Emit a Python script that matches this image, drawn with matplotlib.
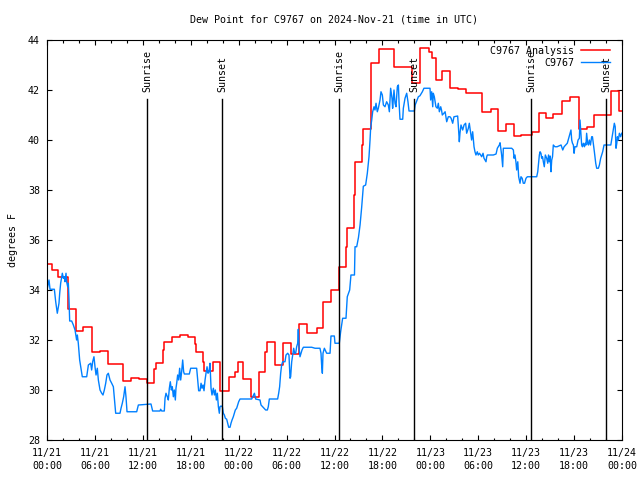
import matplotlib
matplotlib.use("Agg")
import matplotlib.pyplot as plt

# hourly analysis (value holds until next change time), hours since 11/21 00:00 UTC
analysis_hours = [0, 0.6, 1.4, 2.6, 3.6, 4.5, 5.6, 6.6, 7.6, 9.5,
                  10.5, 11.5, 12.5, 13.4, 13.7, 14.5, 14.6, 15.6, 16.6, 17.7,
                  18.5, 18.66, 19.58, 19.7, 20.75, 21.7, 22.75, 23.5, 23.9, 24.5,
                  25.55, 26.55, 27.3, 27.5, 28.55, 29.6, 30.6, 31.55, 32.6, 33.8,
                  34.6, 35.56, 36.6, 37.5, 37.6, 38.5, 38.6, 39.5, 39.6, 40.6,
                  41.6, 43.5, 45.7, 46.7, 47.8, 48.2, 48.7, 49.5, 50.5, 51.5,
                  52.5, 54.5, 55.6, 56.5, 57.5, 58.5, 59.4, 60.7, 61.6, 62.5,
                  63.4, 64.45, 65.45, 66.6, 67.6, 68.5, 70.6, 71.6, 72]
analysis_dewpoint = [35.03, 34.8, 34.5, 33.22, 32.36, 32.5, 31.52, 31.56, 31.04, 30.35,
                     30.47, 30.44, 30.28, 30.84, 31.08, 31.6, 31.9, 32.1, 32.2, 32.1,
                     31.83, 31.5, 31.13, 30.76, 31.1, 29.96, 30.5, 30.73, 31.13, 30.44,
                     29.73, 30.71, 31.5, 31.93, 31.0, 31.87, 31.44, 32.63, 32.3, 32.47,
                     33.5, 34.0, 34.93, 35.73, 36.47, 37.8, 39.13, 39.8, 40.43, 43.07,
                     43.63, 42.93, 42.3, 43.67, 43.5, 43.27, 42.4, 42.76, 42.07, 42.05,
                     41.87, 41.13, 41.24, 40.37, 40.64, 40.17, 40.2, 40.33, 41.07, 40.87,
                     41.04, 41.57, 41.73, 40.43, 40.5, 41.0, 41.96, 41.17, 41.17]

# station observations
obs_hours = [0.0, 0.25, 0.38, 0.92, 1.09, 1.29, 1.5, 1.59, 1.71, 1.92,
             2.05, 2.17, 2.25, 2.38, 2.46, 2.59, 2.67, 2.75, 2.84, 3.09,
             3.3, 3.51, 3.71, 3.8, 3.92, 4.09, 4.22, 4.42, 4.97, 5.18,
             5.47, 5.59, 5.72, 5.88, 6.01, 6.14, 6.3, 6.43, 6.64, 6.85,
             7.01, 7.18, 7.35, 7.51, 7.68, 7.89, 8.1, 8.31, 8.43, 8.6,
             9.14, 9.27, 9.43, 9.6, 9.77, 9.89, 10.02, 11.23, 11.44, 13.02,
             13.23, 14.15, 14.23, 14.36, 14.69, 14.78, 14.9, 15.07, 15.19, 15.32,
             15.44, 15.57, 15.69, 15.82, 15.94, 16.07, 16.15, 16.24, 16.36, 16.49,
             16.61, 16.74, 16.86, 16.99, 17.11, 17.2, 17.82, 17.99, 18.74, 18.87,
             18.99, 19.16, 19.29, 19.41, 19.54, 19.66, 19.79, 19.91, 20.04, 20.16,
             20.29, 20.41, 20.54, 20.66, 20.83, 20.96, 21.08, 21.21, 21.33, 21.46,
             21.58, 21.66, 21.79, 21.96, 22.08, 22.21, 22.33, 22.5, 22.62, 22.75,
             22.92, 23.04, 23.17, 23.33, 23.46, 23.58, 23.75, 23.88, 24.0, 24.17,
             25.63, 25.97, 26.13, 26.67, 26.8, 27.0, 27.38, 27.59, 27.71, 27.84,
             28.88, 29.01, 29.13, 29.26, 29.38, 29.51, 29.8, 29.93, 30.14, 30.3,
             30.43, 30.51, 30.64, 30.76, 30.89, 31.01, 31.14, 31.26, 31.39, 31.47,
             31.55, 31.68, 31.81, 31.93, 32.1, 33.14, 33.56, 34.18, 34.31, 34.39,
             34.48, 34.56, 34.73, 35.02, 35.44, 35.56, 35.98, 36.06, 36.6, 36.77,
             37.02, 37.44, 37.6, 37.9, 38.06, 38.5, 38.57, 38.78, 39.0, 39.2,
             39.4, 39.61, 39.9, 40.11, 40.32, 40.45, 40.53, 40.66, 40.78, 40.95,
             41.07, 41.2, 41.36, 41.49, 41.7, 41.82, 41.99, 42.12, 42.32, 42.53,
             42.74, 42.87, 43.03, 43.2, 43.28, 43.45, 43.58, 43.7, 43.87, 44.0,
             44.08, 44.2, 44.54, 44.62, 44.83, 45.04, 45.2, 45.33, 46.0, 46.1,
             46.5, 46.7, 47.0, 47.2, 47.96, 48.04, 48.17, 48.3, 48.37, 48.5,
             48.7, 48.88, 49.0, 49.13, 49.3, 49.4, 49.5, 49.7, 49.85, 50.05,
             50.25, 50.46, 50.6, 50.8, 50.96, 51.42, 51.5, 51.63, 51.71, 51.84,
             52.05, 52.22, 52.42, 52.55, 52.76, 52.88, 53.05, 53.17, 53.3, 53.47,
             53.59, 53.71, 53.88, 54.0, 54.15, 54.3, 54.43, 54.6, 54.72, 54.85,
             54.97, 55.06, 55.14, 55.89, 56.23, 56.39, 56.64, 56.73, 56.93, 57.06,
             57.14, 58.19, 58.4, 58.48, 58.6, 58.73, 58.81, 58.95, 59.06, 59.23,
             59.35, 59.5, 59.64, 59.8, 59.98, 60.15, 61.32, 61.45, 61.65, 61.74,
             61.85, 61.94, 62.05, 62.15, 62.27, 62.4, 62.57, 62.7, 62.8, 62.9,
             63.0, 63.11, 63.2, 63.3, 63.4, 63.6, 63.87, 64.37, 64.58, 64.75,
             64.95, 65.15, 65.32, 65.49, 65.61, 65.7, 65.8, 65.91, 66.0, 66.1,
             66.33, 66.5, 66.66, 66.74, 66.82, 66.95, 67.05, 67.16, 67.3, 67.4,
             67.49, 67.57, 67.7, 67.8, 67.91, 68.05, 68.2, 68.3, 68.41, 68.54,
             68.71, 68.83, 69.04, 69.17, 69.33, 69.45, 69.58, 69.75, 70.0, 70.6,
             70.91, 71.04, 71.15, 71.25, 71.35, 71.42, 71.55, 71.67, 71.83, 71.96]
obs_dewpoint = [34.0, 34.4, 34.03, 34.03, 33.53, 33.07, 33.47, 33.87, 34.27, 34.67,
                34.47, 34.53, 34.33, 34.67, 34.33, 34.13, 34.27, 33.67, 32.76, 32.76,
                32.6, 32.4, 32.0, 32.2, 31.87, 31.2, 30.93, 30.53, 30.53, 31.0,
                31.07, 30.8, 31.13, 31.33, 30.93, 30.6, 30.87, 30.4, 30.0, 29.87,
                29.8, 30.0, 30.27, 30.6, 30.67, 30.4, 30.27, 30.13, 29.67, 29.07,
                29.07, 29.27, 29.47, 29.73, 30.13, 29.73, 29.13, 29.13, 29.4, 29.44,
                29.16, 29.16, 29.23, 29.16, 29.16, 29.67, 29.87, 29.73, 29.6, 30.07,
                30.33, 30.0, 30.13, 29.73, 30.0, 29.6, 30.07, 30.27, 30.6, 30.4,
                30.87, 30.4, 30.73, 31.2, 30.73, 30.64, 30.64, 30.87, 30.87, 30.4,
                29.97, 29.97, 30.27, 30.07, 30.2, 29.97, 30.4, 30.67, 30.93, 30.67,
                30.73, 31.07, 30.07, 29.8, 30.07, 29.8, 30.0, 29.6, 29.87, 29.33,
                29.07, 29.33, 29.36, 29.33, 29.07, 29.0, 28.87, 28.83, 28.67, 28.51,
                28.51, 28.67, 28.8, 28.93, 29.07, 29.2, 29.27, 29.4, 29.53, 29.64,
                29.64, 29.87, 29.64, 29.6, 29.4, 29.33, 29.2, 29.2, 29.33, 29.64,
                29.64, 29.87, 30.13, 30.67, 31.0, 31.13, 31.13, 31.4, 31.47, 31.4,
                30.47, 30.53, 31.13, 31.4, 31.67, 31.47, 31.47, 31.73, 31.87, 32.43,
                31.73, 31.33, 31.47, 31.6, 31.71, 31.71, 31.67, 31.67, 31.47, 31.0,
                30.67, 31.47, 31.67, 31.47, 31.47, 32.16, 32.16, 31.87, 31.87, 32.33,
                32.87, 32.87, 33.73, 34.0, 34.6, 34.6, 35.73, 35.73, 36.1, 36.6,
                37.3, 38.15, 38.2, 38.67, 39.33, 40.0, 40.5, 40.8, 41.13, 41.33,
                41.2, 41.47, 41.13, 41.27, 41.6, 41.93, 41.8, 41.4, 41.33, 41.53,
                41.4, 41.13, 42.07, 41.67, 41.27, 42.0, 41.47, 41.33, 42.13, 42.2,
                41.53, 40.83, 40.83, 41.27, 41.67, 41.87, 41.53, 41.16, 41.16, 41.4,
                41.73, 41.77, 41.93, 42.07, 42.07, 41.6, 41.93, 41.33, 41.87, 41.73,
                41.33, 41.27, 41.47, 41.13, 41.33, 41.2, 41.0, 41.07, 41.13, 40.73,
                40.93, 40.93, 40.87, 40.67, 40.93, 40.96, 40.6, 39.93, 40.27, 40.6,
                40.4, 40.6, 40.67, 40.27, 40.47, 40.67, 40.27, 40.0, 40.33, 39.73,
                39.53, 39.4, 39.53, 39.4, 39.47, 39.4, 39.33, 39.47, 39.27, 39.2,
                39.13, 39.33, 39.4, 39.4, 39.44, 39.67, 39.8, 39.89, 39.4, 38.93,
                39.67, 39.67, 39.6, 39.27, 39.4, 39.09, 38.8, 39.13, 38.53, 38.27,
                38.53, 38.47, 38.27, 38.27, 38.47, 38.53, 38.53, 38.73, 39.4, 39.53,
                39.47, 39.27, 39.33, 39.13, 38.93, 39.4, 39.27, 39.07, 39.4, 39.13,
                39.36, 38.73, 39.2, 39.33, 39.8, 39.73, 39.73, 39.8, 39.6, 39.73,
                39.8, 39.87, 40.07, 40.27, 40.4, 40.0, 39.87, 39.8, 39.47, 39.73,
                39.73, 40.0, 40.07, 40.8, 40.4, 39.8, 39.73, 39.87, 39.73, 39.87,
                39.8, 40.27, 39.87, 39.8, 40.0, 39.8, 40.13, 40.13, 39.87, 39.53,
                39.07, 38.87, 38.87, 39.0, 39.27, 39.4, 39.53, 39.8, 39.8, 39.8,
                40.4, 40.67, 40.53, 39.67, 39.87, 40.13, 40.0, 40.27, 40.13, 40.27]

event_hours = [12.56, 21.95, 36.57, 45.99, 60.63, 70.03]
event_labels = ["Sunrise", "Sunset", "Sunrise", "Sunset", "Sunrise", "Sunset"]

tick_hours = list(range(0, 73, 6))
tick_labels = ["11/21\n00:00", "11/21\n06:00", "11/21\n12:00", "11/21\n18:00",
               "11/22\n00:00", "11/22\n06:00", "11/22\n12:00", "11/22\n18:00",
               "11/23\n00:00", "11/23\n06:00", "11/23\n12:00", "11/23\n18:00",
               "11/24\n00:00"]
y_ticks = list(range(28, 45, 2))

plt.rcParams["font.family"] = ["DejaVu Sans Mono"]
plt.rcParams["font.size"] = 7.2

fig = plt.figure(figsize=(6.4, 4.8), dpi=100)
ax = fig.add_axes([47 / 640, 40 / 480, 575 / 640, 400 / 480])

ax.step(analysis_hours, analysis_dewpoint, where="post", color="#ff0000", linewidth=1.1,
        label="C9767 Analysis")
ax.plot(obs_hours, obs_dewpoint, color="#0080ff", linewidth=1.0, label="C9767")

# sunrise / sunset markers
for hour, label in zip(event_hours, event_labels):
    ax.axvline(hour, ymin=0, ymax=0.8525, color="black", linewidth=1.0)
    ax.text(hour, 0.87, label, transform=ax.get_xaxis_transform(),
            rotation=90, ha="center", va="bottom")

ax.set_xlim(0, 72)
ax.set_ylim(28, 44)
ax.set_xticks(tick_hours)
ax.set_xticklabels(tick_labels, linespacing=1.35)
ax.set_xticks(range(0, 73, 2), minor=True)
ax.set_yticks(y_ticks)
ax.tick_params(which="major", direction="in", top=True, right=True, length=3.6, width=0.8)
ax.tick_params(which="minor", direction="in", top=True, right=True, length=1.8, width=0.8)
ax.tick_params(axis="x", pad=6)
ax.tick_params(axis="y", pad=5)
for spine in ax.spines.values():
    spine.set_linewidth(0.8)

ax.set_ylabel("degrees F", labelpad=7)
fig.text(334 / 640, 1 - 19 / 480, "Dew Point for C9767 on 2024-Nov-21 (time in UTC)",
         ha="center", va="center")

ax.legend(loc="upper right", bbox_to_anchor=(0.979, 0.985), frameon=False,
          markerfirst=False, handlelength=2.9, handletextpad=0.7, borderpad=0.0,
          borderaxespad=0.0, labelspacing=0.2)

fig.savefig("out.png", dpi=100)
